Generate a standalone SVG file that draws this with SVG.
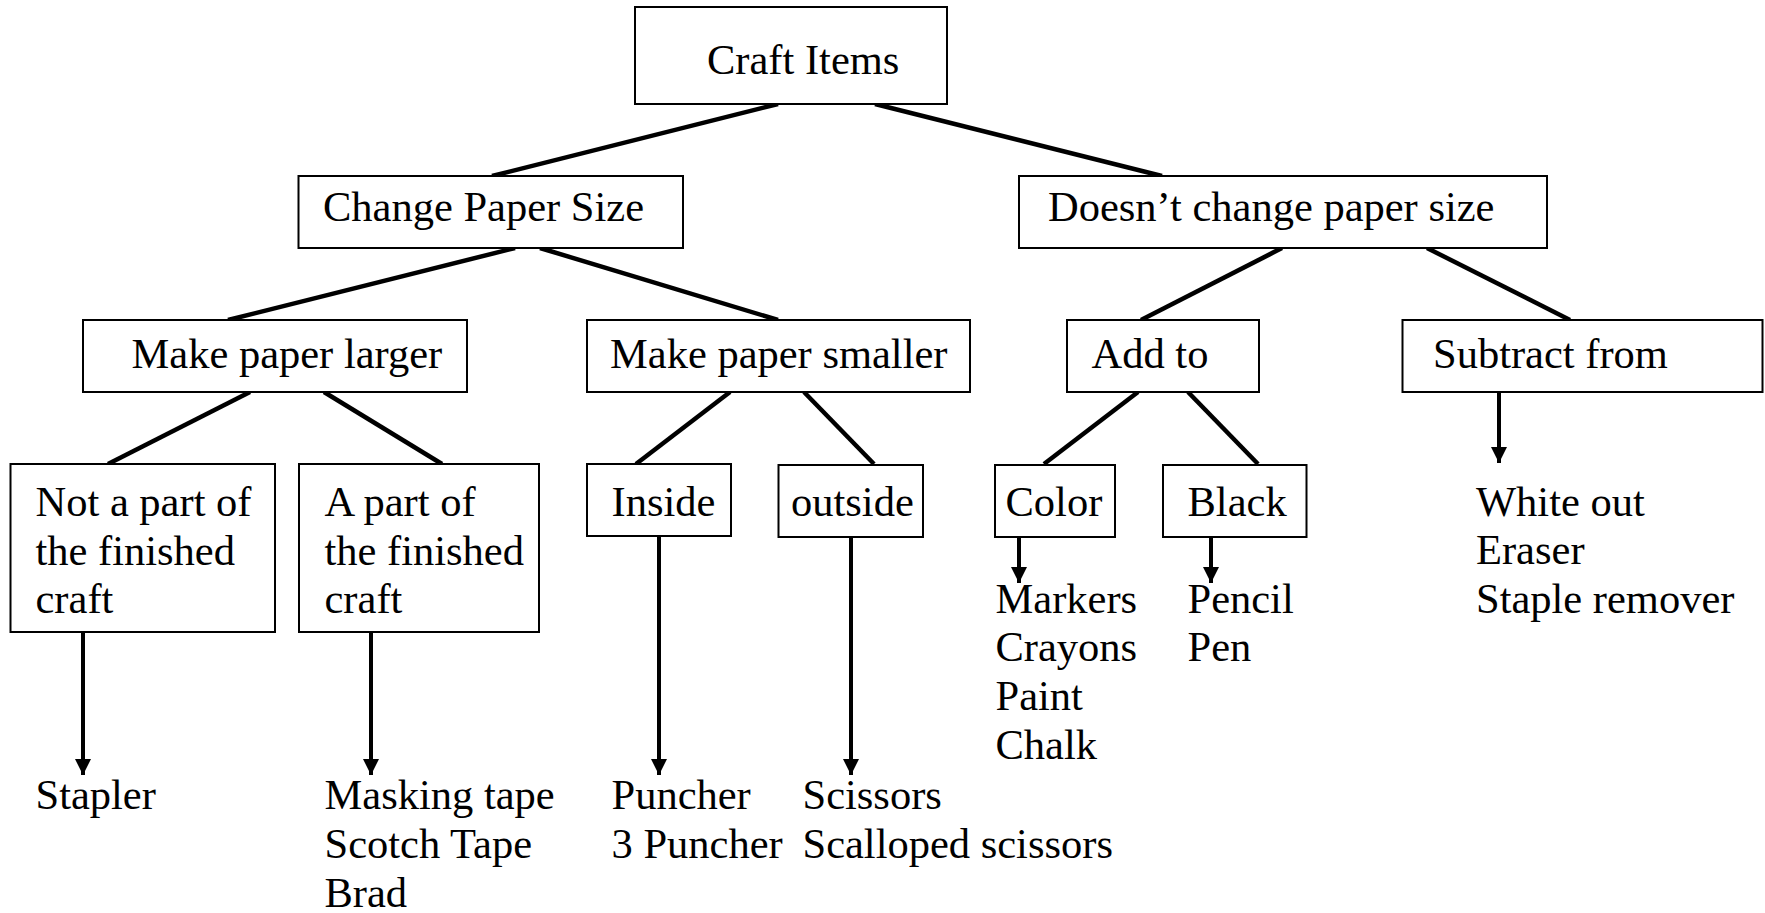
<svg xmlns="http://www.w3.org/2000/svg" width="1765" height="913" viewBox="0 0 1765 913">
<style>
.box{fill:#fff;stroke:#000;stroke-width:2}
text{font-family:'Liberation Serif','Times New Roman',Times,'DejaVu Serif',serif;font-size:42.5px;fill:#000}
.c{stroke:#000;stroke-width:4.5;fill:none}
.a{stroke:#000;stroke-width:4;fill:none}
</style>
<defs>
<marker id="ah" markerUnits="userSpaceOnUse" markerWidth="16" markerHeight="16" viewBox="0 0 16 16" refX="16" refY="8" orient="auto">
<path d="M0,0 L16,8 L0,16 Z" fill="#000"/>
</marker>
</defs>
<rect width="1765" height="913" fill="#fff"/>
<g id="connectors">
<line class="c" x1="778" y1="104" x2="492" y2="176"/>
<line class="c" x1="875" y1="104" x2="1162" y2="176"/>
<line class="c" x1="515" y1="248" x2="228" y2="320"/>
<line class="c" x1="540" y1="248" x2="778" y2="320"/>
<line class="c" x1="1282" y1="248" x2="1141" y2="320"/>
<line class="c" x1="1427" y1="248" x2="1570" y2="320"/>
<line class="c" x1="250" y1="392" x2="108" y2="464"/>
<line class="c" x1="324" y1="392" x2="442" y2="464"/>
<line class="c" x1="730" y1="392" x2="636" y2="464"/>
<line class="c" x1="804" y1="392" x2="874" y2="464"/>
<line class="c" x1="1138" y1="392" x2="1044" y2="464"/>
<line class="c" x1="1188" y1="392" x2="1258" y2="464"/>
<line class="a" x1="1499" y1="392" x2="1499" y2="463" marker-end="url(#ah)"/>
<line class="a" x1="83" y1="632" x2="83" y2="775" marker-end="url(#ah)"/>
<line class="a" x1="371" y1="632" x2="371" y2="775" marker-end="url(#ah)"/>
<line class="a" x1="659" y1="536" x2="659" y2="775" marker-end="url(#ah)"/>
<line class="a" x1="851" y1="537" x2="851" y2="775" marker-end="url(#ah)"/>
<line class="a" x1="1019" y1="537" x2="1019" y2="583" marker-end="url(#ah)"/>
<line class="a" x1="1211" y1="537" x2="1211" y2="583" marker-end="url(#ah)"/>
</g>
<g font-family="Liberation Serif, serif">
<g id="craft-items">
<rect class="box" x="635" y="7" width="312" height="97"/>
<text x="707" y="74">Craft Items</text>
</g>
<g id="change-paper-size">
<rect class="box" x="298.5" y="176" width="384.5" height="72"/>
<text x="323" y="221">Change Paper Size</text>
</g>
<g id="doesnt-change">
<rect class="box" x="1019" y="176" width="528" height="72"/>
<text x="1048" y="221">Doesn’t change paper size</text>
</g>
<g id="make-larger">
<rect class="box" x="83" y="320" width="384" height="72"/>
<text x="131.5" y="368">Make paper larger</text>
</g>
<g id="make-smaller">
<rect class="box" x="587" y="320" width="383" height="72"/>
<text x="610" y="368">Make paper smaller</text>
</g>
<g id="add-to">
<rect class="box" x="1067" y="320" width="192" height="72"/>
<text x="1091.5" y="368">Add to</text>
</g>
<g id="subtract-from">
<rect class="box" x="1402.5" y="320" width="360" height="72"/>
<text x="1433" y="368">Subtract from</text>
</g>
<g id="not-part">
<rect class="box" x="10.5" y="464" width="264.5" height="168"/>
<text x="35.5" y="516">Not a part of</text>
<text x="35.5" y="564.5">the finished</text>
<text x="35.5" y="613">craft</text>
</g>
<g id="a-part">
<rect class="box" x="299" y="464" width="240" height="168"/>
<text x="324.5" y="516">A part of</text>
<text x="324.5" y="564.5">the finished</text>
<text x="324.5" y="613">craft</text>
</g>
<g id="inside">
<rect class="box" x="587" y="464" width="144" height="72"/>
<text x="611.5" y="516">Inside</text>
</g>
<g id="outside">
<rect class="box" x="778.5" y="465" width="144.5" height="72"/>
<text x="791" y="516">outside</text>
</g>
<g id="color">
<rect class="box" x="995" y="465" width="120" height="72"/>
<text x="1005.5" y="516">Color</text>
</g>
<g id="black">
<rect class="box" x="1163" y="465" width="143.5" height="72"/>
<text x="1187.5" y="516">Black</text>
</g>
<g id="stapler-list">
<text x="35.5" y="809">Stapler</text>
</g>
<g id="tape-list">
<text x="324.5" y="809">Masking tape</text>
<text x="324.5" y="858">Scotch Tape</text>
<text x="324.5" y="906.5">Brad</text>
</g>
<g id="puncher-list">
<text x="611.5" y="809">Puncher</text>
<text x="611.5" y="858">3 Puncher</text>
</g>
<g id="scissors-list">
<text x="802.5" y="809">Scissors</text>
<text x="802.5" y="858">Scalloped scissors</text>
</g>
<g id="color-list">
<text x="995.5" y="612.5">Markers</text>
<text x="995.5" y="661">Crayons</text>
<text x="995.5" y="710">Paint</text>
<text x="995.5" y="759">Chalk</text>
</g>
<g id="black-list">
<text x="1187.5" y="612.5">Pencil</text>
<text x="1187.5" y="661">Pen</text>
</g>
<g id="subtract-list">
<text x="1476" y="515.5">White out</text>
<text x="1476" y="564">Eraser</text>
<text x="1476" y="612.5">Staple remover</text>
</g>
</g>
</svg>
